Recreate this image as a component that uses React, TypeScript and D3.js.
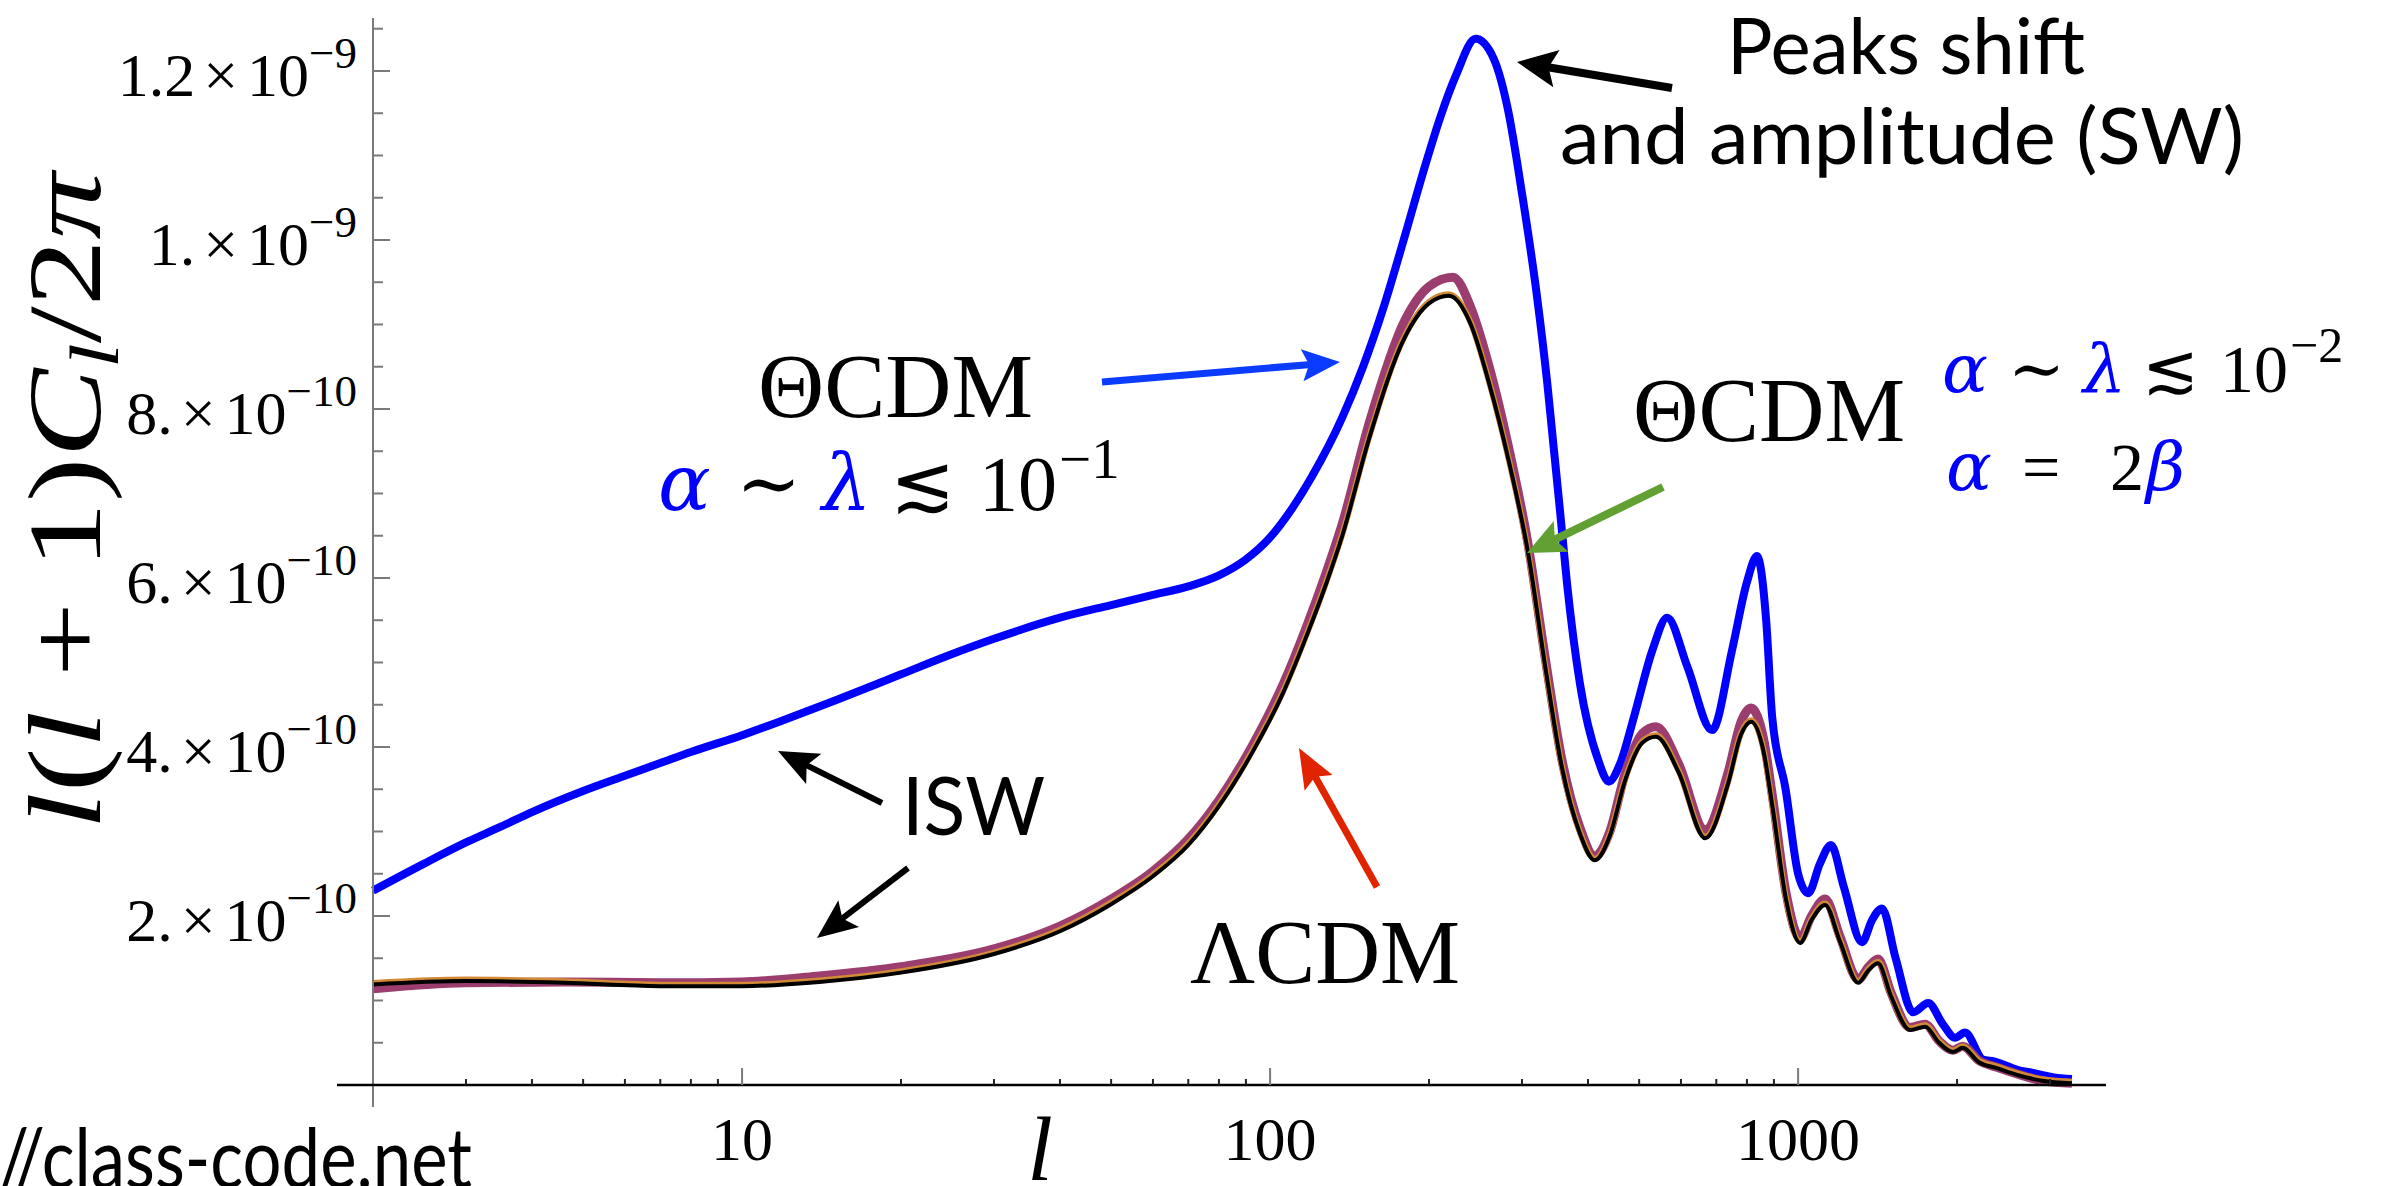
import React, { useEffect } from 'react';
import * as d3 from 'd3';

const W = 2389;
const H = 1186;

// Theta-CDM, alpha ~ lambda <~ 1e-1 (blue). Values in units of 1e-10.
const blueL = [2, 2.5, 3, 3.5, 4, 5, 6, 7, 8, 10, 12, 15, 20, 25, 30, 40, 50, 60, 70, 80, 90, 100, 110, 120, 137, 150, 164, 180, 196, 210, 225, 245, 265, 282, 300, 320, 335, 345, 354, 365, 386, 418, 438, 460, 489, 530, 565, 617, 687, 750, 800, 836, 870, 893, 947, 1000, 1045, 1100, 1154, 1220, 1322, 1380, 1442, 1530, 1652, 1763, 1880, 1983, 2071, 2240, 2350, 2600, 2800, 3050, 3300];
const blueC = [2.30, 2.62, 2.87, 3.06, 3.23, 3.48, 3.66, 3.81, 3.94, 4.14, 4.32, 4.55, 4.86, 5.10, 5.28, 5.53, 5.68, 5.80, 5.90, 6.03, 6.22, 6.48, 6.82, 7.2, 7.9, 8.5, 9.2, 10.05, 10.85, 11.45, 11.95, 12.38, 12.15, 11.55, 10.55, 9.35, 8.3, 7.5, 6.8, 5.94, 4.76, 3.85, 3.59, 3.8, 4.36, 5.15, 5.53, 4.95, 4.20, 5.15, 5.95, 6.26, 5.5, 4.36, 3.5, 2.5, 2.27, 2.62, 2.84, 2.35, 1.69, 1.95, 2.09, 1.5, 0.86, 0.97, 0.72, 0.56, 0.62, 0.30, 0.28, 0.18, 0.14, 0.09, 0.07];

// LambdaCDM (black)
const lcdmL = [2, 3, 4.6, 7, 10, 14, 20, 30, 40, 50, 60, 70, 80, 93, 106, 117, 128, 137, 154, 180, 200, 218, 240, 260, 284, 308, 332, 357, 386, 412, 440, 470, 507, 538, 594, 667, 737, 780, 815, 860, 894, 949, 1009, 1060, 1125, 1200, 1300, 1360, 1417, 1500, 1629, 1740, 1850, 1965, 2050, 2200, 2380, 2600, 2900, 3300];
const lcdmC = [1.19, 1.23, 1.21, 1.17, 1.17, 1.22, 1.33, 1.55, 1.82, 2.14, 2.47, 2.84, 3.30, 3.96, 4.65, 5.3, 5.95, 6.5, 7.65, 8.85, 9.25, 9.34, 9.0, 8.3, 7.35, 6.3, 4.95, 3.76, 2.98, 2.66, 2.95, 3.6, 4.05, 4.12, 3.7, 2.92, 3.57, 4.15, 4.30, 3.95, 3.3, 2.19, 1.68, 1.95, 2.13, 1.7, 1.21, 1.36, 1.44, 1.05, 0.65, 0.69, 0.5, 0.39, 0.44, 0.27, 0.20, 0.12, 0.05, 0.02];

// Theta-CDM, alpha ~ lambda <~ 1e-2, alpha = 2 beta (mauve)
const mauveL = [2, 3, 4.6, 7, 10, 14, 20, 30, 40, 50, 60, 70, 80, 93, 106, 117, 128, 137, 154, 180, 200, 222, 240, 260, 284, 308, 332, 357, 386, 412, 440, 470, 507, 538, 594, 667, 737, 780, 815, 860, 894, 949, 1009, 1060, 1125, 1200, 1300, 1360, 1417, 1500, 1629, 1740, 1850, 1965, 2050, 2200, 2380, 2600, 2900, 3300];
const mauveC = [1.14, 1.21, 1.22, 1.21, 1.22, 1.29, 1.40, 1.61, 1.88, 2.20, 2.53, 2.91, 3.37, 4.04, 4.75, 5.41, 6.08, 6.64, 7.83, 9.05, 9.45, 9.56, 9.2, 8.5, 7.5, 6.4, 5.05, 3.85, 3.05, 2.71, 3.0, 3.68, 4.16, 4.24, 3.8, 3.02, 3.7, 4.3, 4.46, 4.1, 3.42, 2.27, 1.74, 2.0, 2.2, 1.76, 1.25, 1.4, 1.49, 1.09, 0.68, 0.72, 0.52, 0.41, 0.46, 0.29, 0.21, 0.13, 0.05, 0.02];

const yTickValues = [2e-10, 4e-10, 6e-10, 8e-10, 1e-9, 1.2e-9];
const yTickMantissas = ['2.', '4.', '6.', '8.', '1.', '1.2'];
const yTickExponents = ['\u221210', '\u221210', '\u221210', '\u221210', '\u22129', '\u22129'];
const xTickValues = [10, 100, 1000];
const xTickLabels = ['10', '100', '1000'];

const SERIF = "'Liberation Serif', 'DejaVu Serif', serif";
const GREEK = "'DejaVu Serif', 'Liberation Serif', serif";
const SANS = "Lato, 'Open Sans', 'Noto Sans', sans-serif";

function Arrow({ x1, y1, x2, y2, color, width, len, half, notch }: any) {
  const dx = x2 - x1, dy = y2 - y1;
  const d = Math.hypot(dx, dy);
  const ux = dx / d, uy = dy / d;
  const px = -uy, py = ux;
  const bx = x2 - ux * len, by = y2 - uy * len;
  const nx = x2 - ux * (len - notch), ny = y2 - uy * (len - notch);
  const pts = [
    [x2, y2],
    [bx + px * half, by + py * half],
    [nx, ny],
    [bx - px * half, by - py * half],
  ];
  return (
    <g>
      <line x1={x1} y1={y1} x2={nx + ux * 2} y2={ny + uy * 2} stroke={color} strokeWidth={width} />
      <polygon points={pts.map(p => p.join(',')).join(' ')} fill={color} />
    </g>
  );
}

export default function App() {
  useEffect(() => {
    document.body.style.margin = '0';
    document.body.style.overflow = 'hidden';
  }, []);

  const x = d3.scaleLog().domain([2, 4000]).range([373, 2116]);
  const y = d3.scaleLinear().domain([0, 1.2627e-9]).range([1085, 18]);

  const mk = (ls: number[], cs: number[]) =>
    d3.line<number>()
      .x(i => x(ls[i]))
      .y(i => y(cs[i] * 1e-10))
      .curve(d3.curveMonotoneX)(ls.map((_, i) => i)) || '';

  const yMinor = d3.range(1, 26).map(k => k * 0.05e-9).filter((_, i) => (i + 1) % 4 !== 0);
  const xMinor: number[] = [];
  [1, 10, 100, 1000].forEach(dec => {
    for (let m = 2; m <= 9; m++) {
      const l = m * dec;
      if (l > 2 && l <= 3500) xMinor.push(l);
    }
  });

  const axisY0 = y(0);
  const axisX0 = x(2);

  return (
    <svg width={W} height={H} viewBox={`0 0 ${W} ${H}`} style={{ position: 'absolute', left: 0, top: 0, background: '#fff' }}>
      <rect x={0} y={0} width={W} height={H} fill="#fff" />

      {/* curves */}
      <path d={mk(blueL, blueC)} fill="none" stroke="#0000ff" strokeWidth={8} strokeLinejoin="round" />
      <path d={mk(mauveL, mauveC)} fill="none" stroke="#9b3d6e" strokeWidth={9} strokeLinejoin="round" />
      <path d={mk(lcdmL, lcdmC)} fill="none" stroke="#d28a36" strokeWidth={6} transform="translate(0,-1.5)" />
      <path d={mk(lcdmL, lcdmC)} fill="none" stroke="#000" strokeWidth={4} />

      {/* y axis */}
      <line x1={axisX0} y1={18} x2={axisX0} y2={axisY0 + 22} stroke="#7a7a7a" strokeWidth={2} />
      {yMinor.map((v, i) => (
        <line key={'ym' + i} x1={axisX0} x2={axisX0 + 10} y1={y(v)} y2={y(v)} stroke="#7a7a7a" strokeWidth={2} />
      ))}
      {yTickValues.map((v, i) => (
        <g key={'yt' + i}>
          <line x1={axisX0} x2={axisX0 + 17} y1={y(v)} y2={y(v)} stroke="#7a7a7a" strokeWidth={2} />
          <text x={357} y={y(v) + 25} textAnchor="end" fontFamily={SERIF} fontSize={62} fill="#000">
            <tspan>{yTickMantissas[i]}</tspan>
            <tspan dx={8}>×</tspan>
            <tspan dx={9}>10</tspan>
            <tspan fontSize={45} dy={-28}>{yTickExponents[i]}</tspan>
          </text>
        </g>
      ))}

      {/* x axis */}
      <line x1={axisX0 - 36} y1={axisY0} x2={2106} y2={axisY0} stroke="#000" strokeWidth={2.5} />
      {xMinor.map((l, i) => (
        <line key={'xm' + i} x1={x(l)} x2={x(l)} y1={axisY0} y2={axisY0 - 6} stroke="#222" strokeWidth={2} />
      ))}
      {xTickValues.map((l, i) => (
        <g key={'xt' + i}>
          <line x1={x(l)} x2={x(l)} y1={axisY0} y2={axisY0 - 17} stroke="#7a7a7a" strokeWidth={2} />
          <text x={x(l)} y={1160} textAnchor="middle" fontFamily={SERIF} fontSize={62} fill="#000">{xTickLabels[i]}</text>
        </g>
      ))}

      {/* axis titles */}
      <text x={1040} y={1180} fontFamily={SERIF} fontStyle="italic" fontSize={92} textAnchor="middle">l</text>
      <text transform="translate(100,501) rotate(-90)" textAnchor="middle" fontFamily={SERIF} fontSize={104} fill="#000" textLength={657} lengthAdjust="spacingAndGlyphs">
        <tspan fontStyle="italic">l</tspan>
        <tspan>(</tspan>
        <tspan fontStyle="italic">l</tspan>
        <tspan> + 1)</tspan>
        <tspan fontStyle="italic">C</tspan>
        <tspan fontStyle="italic" fontSize={70} dy={18}>l</tspan>
        <tspan dy={-18}>/2</tspan>
        <tspan fontStyle="italic">π</tspan>
      </text>

      {/* annotations */}
      <text x={1727} y={74} fontFamily={SANS} fontSize={78} textLength={358} lengthAdjust="spacingAndGlyphs">Peaks shift</text>
      <text x={1560} y={164} fontFamily={SANS} fontSize={78} textLength={684} lengthAdjust="spacingAndGlyphs">and amplitude (SW)</text>
      <Arrow x1={1672} y1={88} x2={1517} y2={62} color="#000" width={8} len={40} half={19} notch={8} />

      <text x={758} y={417} fontFamily={SERIF} fontSize={92} textLength={275} lengthAdjust="spacingAndGlyphs">ΘCDM</text>
      <g fontFamily={SERIF} fontSize={78}>
        <text x={658} y={510} fill="#0000ff" fontStyle="italic" fontFamily={GREEK}>α</text>
        <text x={736} y={510}>∼</text>
        <text x={822} y={510} fill="#0000ff" fontStyle="italic" fontFamily={GREEK}>λ</text>
        <text x={890} y={510}>≲</text>
        <text x={979} y={510}>10</text>
        <text x={1059} y={478} fontSize={57}>{'\u22121'}</text>
      </g>
      <Arrow x1={1102} y1={382} x2={1340} y2={362} color="#0b3bff" width={7} len={38} half={16} notch={7} />

      <text x={1633} y={441} fontFamily={SERIF} fontSize={92} textLength={272} lengthAdjust="spacingAndGlyphs">ΘCDM</text>
      <g fontFamily={SERIF} fontSize={68}>
        <text x={1942} y={392} fill="#0000ff" fontStyle="italic" fontFamily={GREEK}>α</text>
        <text x={2008} y={392}>∼</text>
        <text x={2083} y={392} fill="#0000ff" fontStyle="italic" fontFamily={GREEK}>λ</text>
        <text x={2142} y={392}>≲</text>
        <text x={2220} y={392}>10</text>
        <text x={2290} y={362} fontSize={50}>{'\u22122'}</text>
        <text x={1946} y={490} fill="#0000ff" fontStyle="italic" fontFamily={GREEK}>α</text>
        <text x={2022} y={490}>=</text>
        <text x={2110} y={490}>2</text>
        <text x={2146} y={490} fill="#0000ff" fontStyle="italic" fontFamily={GREEK}>β</text>
      </g>
      <Arrow x1={1663} y1={487} x2={1527} y2={553} color="#62a033" width={8} len={38} half={17} notch={7} />

      <text x={902} y={835} fontFamily={SANS} fontSize={82} textLength={143} lengthAdjust="spacingAndGlyphs">ISW</text>
      <Arrow x1={882} y1={803} x2={778} y2={751} color="#000" width={6} len={40} half={17} notch={8} />
      <Arrow x1={908} y1={868} x2={817} y2={938} color="#000" width={6} len={40} half={17} notch={8} />

      <text x={1190} y={983} fontFamily={SERIF} fontSize={92} textLength={270} lengthAdjust="spacingAndGlyphs">ΛCDM</text>
      <Arrow x1={1377} y1={887} x2={1299} y2={748} color="#e02400" width={7} len={40} half={16} notch={7} />

      <text x={-2} y={1188} fontFamily={SANS} fontSize={84} textLength={474} lengthAdjust="spacingAndGlyphs">//class-code.net</text>
    </svg>
  );
}
